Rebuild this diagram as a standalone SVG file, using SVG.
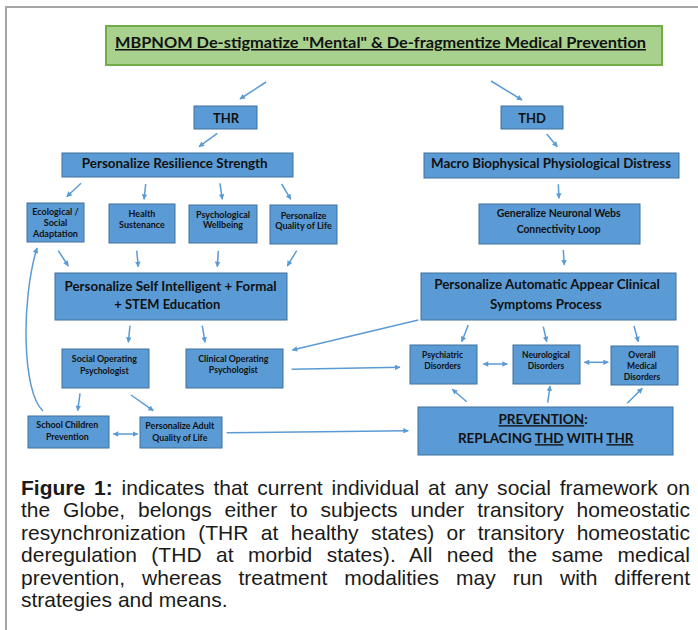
<svg xmlns="http://www.w3.org/2000/svg" width="698" height="630" viewBox="0 0 698 630">
<style>
.box{fill:#5b9bd5;stroke:#41719c;stroke-width:1}
.t{font-family:Lato,"Open Sans","DejaVu Sans",sans-serif;font-weight:bold;fill:#111;text-anchor:middle}
.big{font-size:13.5px}
.mid{font-size:10.5px}
.sm{font-size:9px}
.xs{font-size:8.5px}
.c{stroke:#5b9bd5;stroke-width:1.5;fill:none;marker-end:url(#ah)}
.d{marker-start:url(#ah)}
.cap{font-family:"Liberation Sans",Arial,sans-serif;font-size:21px;fill:#1a1a1a}
</style>
<defs>
<marker id="ah" viewBox="0 0 10 10" refX="9" refY="5" markerWidth="6" markerHeight="5.5" markerUnits="userSpaceOnUse" orient="auto-start-reverse">
<path d="M0,0 L10,5 L0,10 z" fill="#5b9bd5"/>
</marker>
</defs>
<rect width="698" height="630" fill="#fff"/>
<path d="M6,630 V7 H698" fill="none" stroke="#a6a6a6" stroke-width="2"/>

<g id="title">
<rect x="106" y="26" width="556" height="39" fill="#a9d18e" stroke="#70ad47" stroke-width="2"/>
<text class="t" x="380.5" y="48" font-size="15" textLength="531" lengthAdjust="spacingAndGlyphs" text-decoration="underline">MBPNOM De-stigmatize "Mental" &amp; De-fragmentize Medical Prevention</text>
</g>
<g id="thr"><rect class="box" x="194" y="106" width="63" height="23"/><text class="t" x="226" y="122.7" font-size="13">THR</text></g>
<g id="thd"><rect class="box" x="501" y="106" width="62" height="23"/><text class="t" x="532" y="122.7" font-size="13">THD</text></g>
<g id="resilience"><rect class="box" x="62" y="153" width="231" height="24"/><text class="t big" x="174.7" y="167.7" textLength="186" lengthAdjust="spacingAndGlyphs">Personalize Resilience Strength</text></g>
<g id="macro"><rect class="box" x="424" y="153" width="255" height="25"/><text class="t big" x="551" y="168.3" textLength="240" lengthAdjust="spacingAndGlyphs">Macro Biophysical Physiological Distress</text></g>
<g id="ecological"><rect class="box" x="27" y="203" width="57" height="39"/><text class="t sm" x="55.5" y="215.2">Ecological /</text><text class="t sm" x="55.5" y="226">Social</text><text class="t sm" x="55.5" y="237">Adaptation</text></g>
<g id="health"><rect class="box" x="109" y="204" width="66" height="39"/><text class="t sm" x="142" y="216.5">Health</text><text class="t sm" x="142" y="227.5">Sustenance</text></g>
<g id="psychological"><rect class="box" x="189" y="205" width="68" height="38"/><text class="t sm" x="223" y="217.5">Psychological</text><text class="t sm" x="223" y="228">Wellbeing</text></g>
<g id="qol"><rect class="box" x="270" y="205" width="67" height="39"/><text class="t sm" x="303.5" y="218.5">Personalize</text><text class="t sm" x="303.5" y="228.7">Quality of Life</text></g>
<g id="generalize"><rect class="box" x="479" y="204" width="161" height="40"/><text class="t mid" x="558.7" y="217.1" textLength="124" lengthAdjust="spacingAndGlyphs">Generalize Neuronal Webs</text><text class="t mid" x="558.7" y="232.5" textLength="84" lengthAdjust="spacingAndGlyphs">Connectivity Loop</text></g>
<g id="selfint"><rect class="box" x="55" y="273" width="232" height="47"/><text class="t big" x="170.5" y="290.6" textLength="212" lengthAdjust="spacingAndGlyphs">Personalize Self Intelligent + Formal</text><text class="t big" x="167.3" y="309.2" textLength="106" lengthAdjust="spacingAndGlyphs">+ STEM Education</text></g>
<g id="automatic"><rect class="box" x="421" y="273" width="255" height="47"/><text class="t big" x="547" y="289.2" textLength="225.7" lengthAdjust="spacingAndGlyphs">Personalize Automatic Appear Clinical</text><text class="t big" x="545.8" y="308.6" textLength="111.7" lengthAdjust="spacingAndGlyphs">Symptoms Process</text></g>
<g id="socialop"><rect class="box" x="62" y="349" width="87" height="39"/><text class="t sm" x="104.3" y="362.2" textLength="65" lengthAdjust="spacingAndGlyphs">Social Operating</text><text class="t sm" x="104.3" y="374.2" textLength="48.7" lengthAdjust="spacingAndGlyphs">Psychologist</text></g>
<g id="clinicalop"><rect class="box" x="186" y="349" width="97" height="39"/><text class="t sm" x="233.3" y="361.5" textLength="70" lengthAdjust="spacingAndGlyphs">Clinical Operating</text><text class="t sm" x="233.3" y="373.2" textLength="49" lengthAdjust="spacingAndGlyphs">Psychologist</text></g>
<g id="psychiatric"><rect class="box" x="410" y="345" width="67" height="39"/><text class="t xs" x="442.5" y="358.2">Psychiatric</text><text class="t xs" x="442.5" y="369.2">Disorders</text></g>
<g id="neurological"><rect class="box" x="513" y="345" width="67" height="39"/><text class="t xs" x="546" y="357.5">Neurological</text><text class="t xs" x="546" y="368.5">Disorders</text></g>
<g id="overall"><rect class="box" x="611" y="346" width="67" height="39"/><text class="t xs" x="642" y="357.5">Overall</text><text class="t xs" x="642" y="368.9">Medical</text><text class="t xs" x="642" y="379.9">Disorders</text></g>
<g id="school"><rect class="box" x="28" y="416" width="81" height="32"/><text class="t sm" x="67.3" y="428.2" textLength="62" lengthAdjust="spacingAndGlyphs">School Children</text><text class="t sm" x="67.3" y="439.9" textLength="42.7" lengthAdjust="spacingAndGlyphs">Prevention</text></g>
<g id="adult"><rect class="box" x="140" y="417" width="82" height="31"/><text class="t sm" x="179.8" y="428.9" textLength="69" lengthAdjust="spacingAndGlyphs">Personalize Adult</text><text class="t sm" x="179.8" y="440.5" textLength="55" lengthAdjust="spacingAndGlyphs">Quality of Life</text></g>
<g id="prevention"><rect class="box" x="418" y="407" width="255" height="48"/><text class="t big" x="543" y="424.2"><tspan text-decoration="underline">PREVENTION</tspan>:</text><text class="t big" x="545.7" y="443.2">REPLACING <tspan text-decoration="underline">THD</tspan> WITH <tspan text-decoration="underline">THR</tspan></text></g>

<g id="connectors">
<path class="c" d="M266,82 L240,99"/>
<path class="c" d="M491,81 L522,100"/>
<path class="c" d="M217.3,133.3 L199,146.7"/>
<path class="c" d="M81,183.3 L66.7,196.7"/>
<path class="c" d="M145.7,184 L144,199.3"/>
<path class="c" d="M220,183.3 L222.3,199.3"/>
<path class="c" d="M281.7,184 L290.7,199.3"/>
<path class="c" d="M58.3,250.7 L68.3,266"/>
<path class="c" d="M136.7,250.7 L138.3,266.7"/>
<path class="c" d="M218.3,250.7 L217.3,266.7"/>
<path class="c" d="M296.7,250.7 L287.3,266"/>
<path class="c" d="M546.7,134 L557.3,146.7"/>
<path class="c" d="M558.3,184.3 L559,198.3"/>
<path class="c" d="M563.3,250 L564.3,265"/>
<path class="c" d="M130,325.7 L128.3,342.3"/>
<path class="c" d="M202.3,325.7 L205,342.3"/>
<path class="c" d="M80,393.3 L77.7,410.7"/>
<path class="c" d="M131,395 L153.3,410.7"/>
<path class="c d" d="M113.3,434 L137.7,434"/>
<path class="c" d="M226.7,432.7 L408.3,430.7"/>
<path class="c" d="M418.3,320 L292.3,350"/>
<path class="c" d="M291.7,369.3 L400,367.3"/>
<path class="c" d="M43,411 C22,392 21,300 37,248"/>
<path class="c" d="M468.3,325 L461.7,341.7"/>
<path class="c" d="M543.3,326.7 L546.7,341.7"/>
<path class="c" d="M634,326 L638.3,341.7"/>
<path class="c d" d="M483.3,364 L507.3,364"/>
<path class="c d" d="M584.3,362.3 L608.3,362.3"/>
<path class="c" d="M466.7,401.7 L452.3,389.3"/>
<path class="c" d="M547.7,402.7 L550,386"/>
<path class="c" d="M627.3,403.3 L642.3,388.3"/>
</g>

<g id="caption">
<text class="cap" x="21" y="494.5" word-spacing="3" textLength="669" lengthAdjust="spacing"><tspan font-weight="bold">Figure 1:</tspan> indicates that current individual at any social framework on</text>
<text class="cap" x="21" y="517" word-spacing="7" textLength="669" lengthAdjust="spacing">the Globe, belongs either to subjects under transitory homeostatic</text>
<text class="cap" x="21" y="539.5" word-spacing="6.6" textLength="669" lengthAdjust="spacing">resynchronization (THR at healthy states) or transitory homeostatic</text>
<text class="cap" x="21" y="562" word-spacing="8.5" textLength="669" lengthAdjust="spacing">deregulation (THD at morbid states). All need the same medical</text>
<text class="cap" x="21" y="584.5" word-spacing="11.1" textLength="669" lengthAdjust="spacing">prevention, whereas treatment modalities may run with different</text>
<text class="cap" x="21" y="607">strategies and means.</text>
</g>
</svg>
